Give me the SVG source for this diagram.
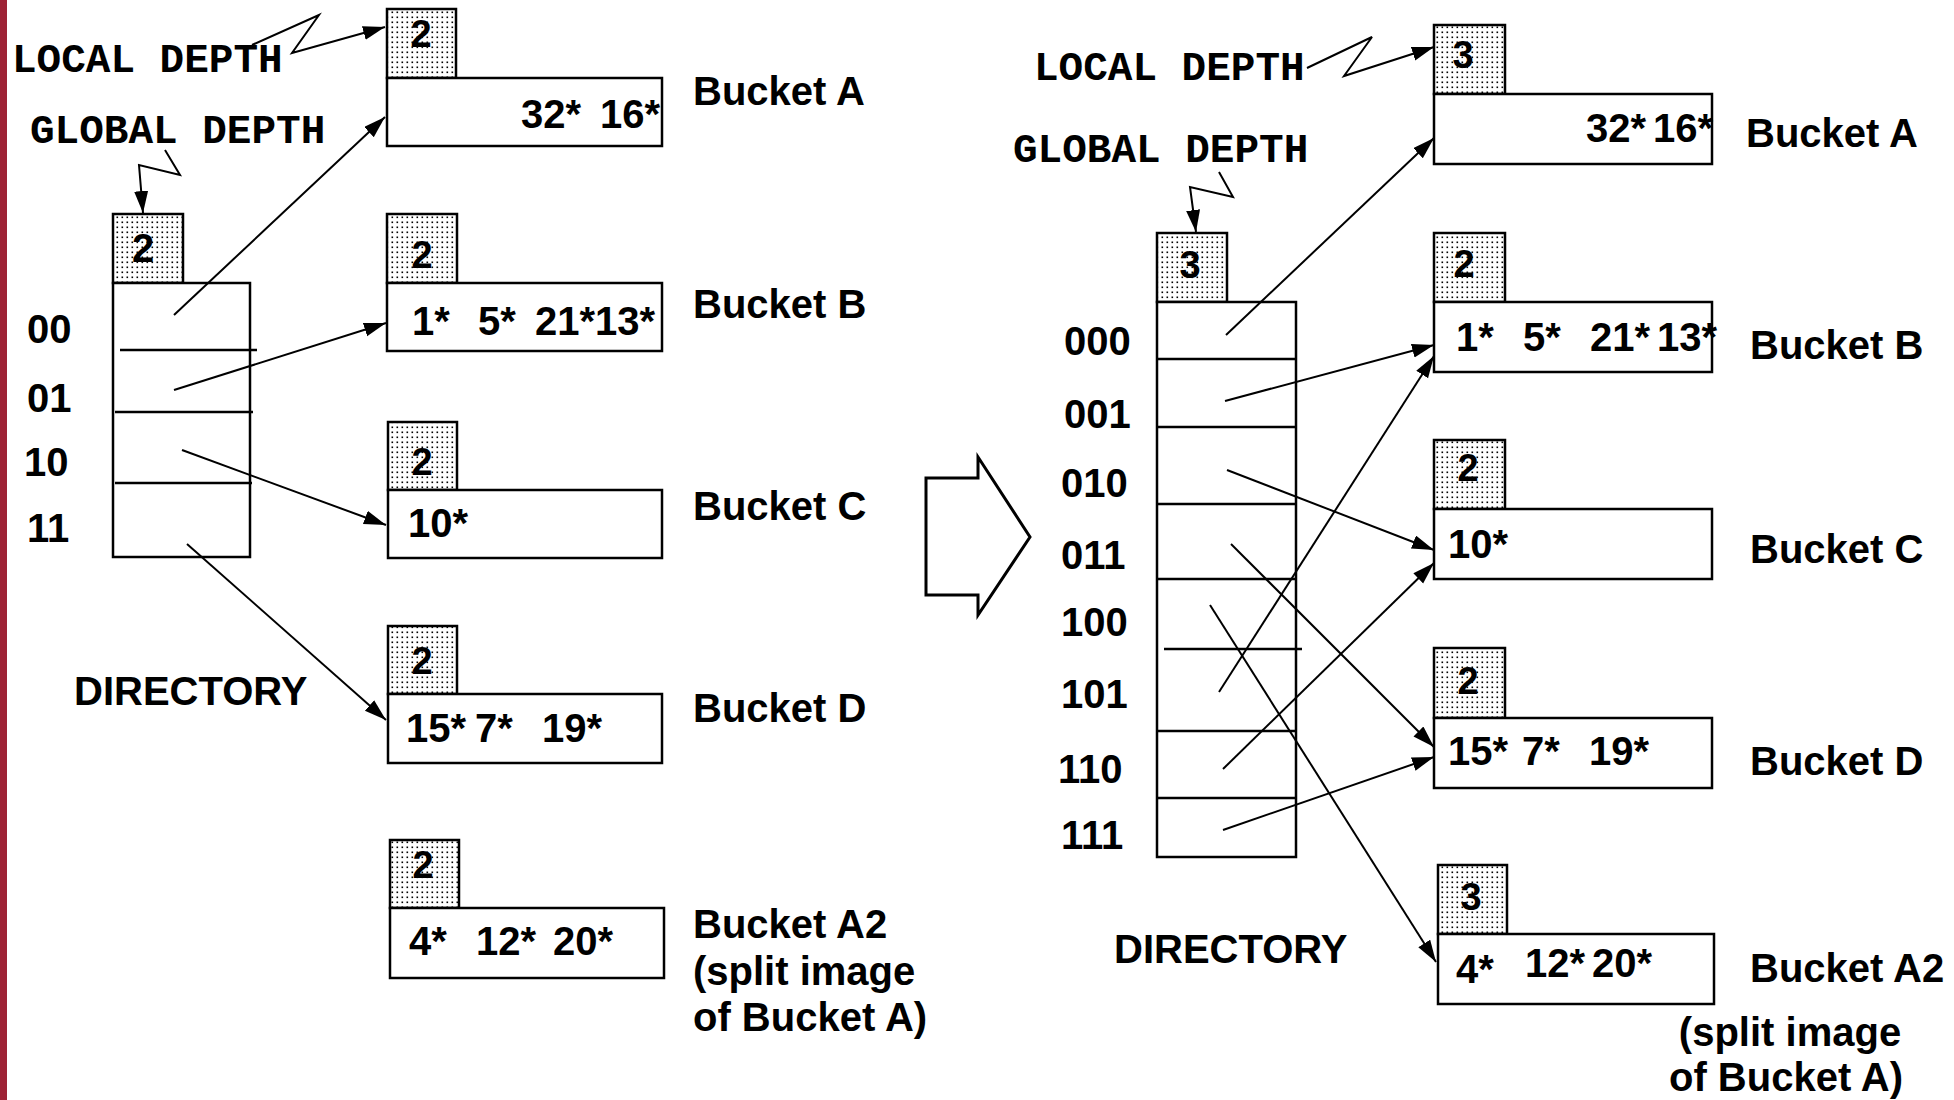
<svg xmlns="http://www.w3.org/2000/svg" width="1954" height="1100" viewBox="0 0 1954 1100">
<style>
.box{fill:#fff;stroke:#000;stroke-width:2.5}
.dep{fill:url(#dots);stroke:#000;stroke-width:2.5}
.dl{stroke:#000;stroke-width:2.6}
.t{font-family:"Liberation Sans",Arial,sans-serif;font-weight:bold;font-size:40px;fill:#000}
.d{font-family:"Liberation Sans",Arial,sans-serif;font-weight:bold;font-size:38px;fill:#000;text-anchor:middle}
.m{font-family:"Liberation Mono","Courier New",monospace;font-weight:bold;font-size:41px;fill:#000}
.c{stroke:#000;stroke-width:2;fill:none}
.ca{stroke:#000;stroke-width:2;fill:none;marker-end:url(#ah)}
</style>
<defs>
<pattern id="dots" width="5" height="5" patternUnits="userSpaceOnUse">
<rect width="5" height="5" fill="#fff"/>
<rect x="1.5" y="1.5" width="1.6" height="1.6" fill="#000"/>
</pattern>
<marker id="ah" markerUnits="userSpaceOnUse" markerWidth="24" markerHeight="16" refX="22" refY="7" orient="auto">
<path d="M0,0 L22,7 L0,14 z" fill="#000"/>
</marker>
</defs>
<rect width="1954" height="1100" fill="#fff"/>
<rect x="0" y="0" width="7" height="1100" fill="#9E2235"/>

<!-- LEFT SIDE -->
<g id="left-labels">
<text class="m" x="12" y="72">LOCAL DEPTH</text>
<text class="m" x="30" y="143">GLOBAL DEPTH</text>
<text class="t" x="27" y="343">00</text>
<text class="t" x="27" y="412">01</text>
<text class="t" x="24" y="476">10</text>
<text class="t" x="27" y="542">11</text>
<text class="t" x="74" y="705">DIRECTORY</text>
</g>
<g id="left-directory">
<rect class="dep" x="113" y="214" width="70" height="69"/>
<text class="d" x="143" y="262" style="font-size:40px">2</text>
<rect class="box" x="113" y="283" width="137" height="274"/>
<line class="dl" x1="120" y1="350" x2="257" y2="350"/>
<line class="dl" x1="115" y1="412" x2="253" y2="412"/>
<line class="dl" x1="115" y1="483" x2="252" y2="483"/>
</g>
<g id="left-bucket-a">
<rect class="dep" x="387" y="9" width="69" height="69"/>
<text class="d" x="421" y="47">2</text>
<rect class="box" x="387" y="78" width="275" height="68"/>
<text class="t" x="521" y="128">32*</text>
<text class="t" x="600" y="128">16*</text>
<text class="t" x="693" y="105">Bucket A</text>
</g>
<g id="left-bucket-b">
<rect class="dep" x="387" y="214" width="70" height="69"/>
<text class="d" x="422" y="268">2</text>
<rect class="box" x="387" y="283" width="275" height="68"/>
<text class="t" x="412" y="335">1*</text>
<text class="t" x="478" y="335">5*</text>
<text class="t" x="535" y="335">21*13*</text>
<text class="t" x="693" y="318">Bucket B</text>
</g>
<g id="left-bucket-c">
<rect class="dep" x="388" y="422" width="69" height="68"/>
<text class="d" x="422" y="475">2</text>
<rect class="box" x="388" y="490" width="274" height="68"/>
<text class="t" x="408" y="537">10*</text>
<text class="t" x="693" y="520">Bucket C</text>
</g>
<g id="left-bucket-d">
<rect class="dep" x="388" y="626" width="69" height="68"/>
<text class="d" x="422" y="674">2</text>
<rect class="box" x="388" y="694" width="274" height="69"/>
<text class="t" x="406" y="742">15*</text>
<text class="t" x="475" y="742">7*</text>
<text class="t" x="542" y="742">19*</text>
<text class="t" x="693" y="722">Bucket D</text>
</g>
<g id="left-bucket-a2">
<rect class="dep" x="390" y="840" width="69" height="68"/>
<text class="d" x="423" y="878">2</text>
<rect class="box" x="390" y="908" width="274" height="70"/>
<text class="t" x="409" y="955">4*</text>
<text class="t" x="476" y="955">12*</text>
<text class="t" x="553" y="955">20*</text>
<text class="t" x="693" y="938">Bucket A2</text>
<text class="t" x="693" y="985">(split image</text>
<text class="t" x="693" y="1031">of Bucket A)</text>
</g>

<!-- transition arrow -->
<g id="transition">
<polygon points="926,478 978,478 978,457 1030,537 978,615 978,595 926,595" fill="#fff" stroke="#000" stroke-width="3"/>
</g>

<!-- RIGHT SIDE -->
<g id="right-labels">
<text class="m" x="1034" y="80">LOCAL DEPTH</text>
<text class="m" x="1013" y="162">GLOBAL DEPTH</text>
<text class="t" x="1064" y="355">000</text>
<text class="t" x="1064" y="428">001</text>
<text class="t" x="1061" y="497">010</text>
<text class="t" x="1061" y="569">011</text>
<text class="t" x="1061" y="636">100</text>
<text class="t" x="1061" y="708">101</text>
<text class="t" x="1058" y="783">110</text>
<text class="t" x="1061" y="849">111</text>
<text class="t" x="1114" y="963">DIRECTORY</text>
</g>
<g id="right-directory">
<rect class="dep" x="1157" y="233" width="70" height="69"/>
<text class="d" x="1190" y="278">3</text>
<rect class="box" x="1157" y="302" width="139" height="555"/>
<line class="dl" x1="1157" y1="359" x2="1296" y2="359"/>
<line class="dl" x1="1157" y1="427" x2="1296" y2="427"/>
<line class="dl" x1="1157" y1="504" x2="1296" y2="504"/>
<line class="dl" x1="1157" y1="579" x2="1296" y2="579"/>
<line class="dl" x1="1164" y1="649" x2="1302" y2="649"/>
<line class="dl" x1="1157" y1="731" x2="1296" y2="731"/>
<line class="dl" x1="1157" y1="798" x2="1296" y2="798"/>
</g>
<g id="right-bucket-a">
<rect class="dep" x="1434" y="25" width="71" height="69"/>
<text class="d" x="1463" y="68">3</text>
<rect class="box" x="1434" y="94" width="278" height="70"/>
<text class="t" x="1586" y="142">32*</text>
<text class="t" x="1653" y="142">16*</text>
<text class="t" x="1746" y="147">Bucket A</text>
</g>
<g id="right-bucket-b">
<rect class="dep" x="1434" y="233" width="71" height="69"/>
<text class="d" x="1464" y="277">2</text>
<rect class="box" x="1434" y="302" width="278" height="70"/>
<text class="t" x="1456" y="351">1*</text>
<text class="t" x="1523" y="351">5*</text>
<text class="t" x="1590" y="351">21*</text>
<text class="t" x="1657" y="351">13*</text>
<text class="t" x="1750" y="359">Bucket B</text>
</g>
<g id="right-bucket-c">
<rect class="dep" x="1434" y="440" width="71" height="69"/>
<text class="d" x="1468" y="481">2</text>
<rect class="box" x="1434" y="509" width="278" height="70"/>
<text class="t" x="1448" y="558">10*</text>
<text class="t" x="1750" y="563">Bucket C</text>
</g>
<g id="right-bucket-d">
<rect class="dep" x="1434" y="648" width="71" height="70"/>
<text class="d" x="1468" y="694">2</text>
<rect class="box" x="1434" y="718" width="278" height="70"/>
<text class="t" x="1448" y="765">15*</text>
<text class="t" x="1522" y="765">7*</text>
<text class="t" x="1589" y="765">19*</text>
<text class="t" x="1750" y="775">Bucket D</text>
</g>
<g id="right-bucket-a2">
<rect class="dep" x="1438" y="865" width="69" height="69"/>
<text class="d" x="1471" y="910">3</text>
<rect class="box" x="1438" y="934" width="276" height="70"/>
<text class="t" x="1456" y="983">4*</text>
<text class="t" x="1525" y="977">12*</text>
<text class="t" x="1592" y="977">20*</text>
<text class="t" x="1750" y="982">Bucket A2</text>
<text class="t" x="1790" y="1046" text-anchor="middle">(split image</text>
<text class="t" x="1786" y="1091" text-anchor="middle">of Bucket A)</text>
</g>

<g id="connectors">
<polyline class="ca" points="252,45 319,15 292,53 385,27"/>
<polyline class="ca" points="165,150 180,175 139,165 143,213"/>
<line class="ca" x1="174" y1="315" x2="385" y2="117"/>
<line class="ca" x1="174" y1="390" x2="386" y2="323"/>
<line class="ca" x1="182" y1="450" x2="386" y2="525"/>
<line class="ca" x1="187" y1="544" x2="386" y2="720"/>

<polyline class="ca" points="1307,68 1372,37 1344,76 1434,47"/>
<polyline class="ca" points="1219,172 1233,197 1190,187 1196,232"/>
<line class="ca" x1="1226" y1="335" x2="1434" y2="138"/>
<line class="ca" x1="1225" y1="401" x2="1434" y2="345"/>
<line class="ca" x1="1227" y1="470" x2="1434" y2="550"/>
<line class="ca" x1="1231" y1="544" x2="1434" y2="747"/>
<line class="ca" x1="1210" y1="605" x2="1436" y2="962"/>
<line class="ca" x1="1219" y1="692" x2="1434" y2="356"/>
<line class="ca" x1="1223" y1="769" x2="1434" y2="563"/>
<line class="ca" x1="1223" y1="830" x2="1434" y2="757"/>
</g>
</svg>
